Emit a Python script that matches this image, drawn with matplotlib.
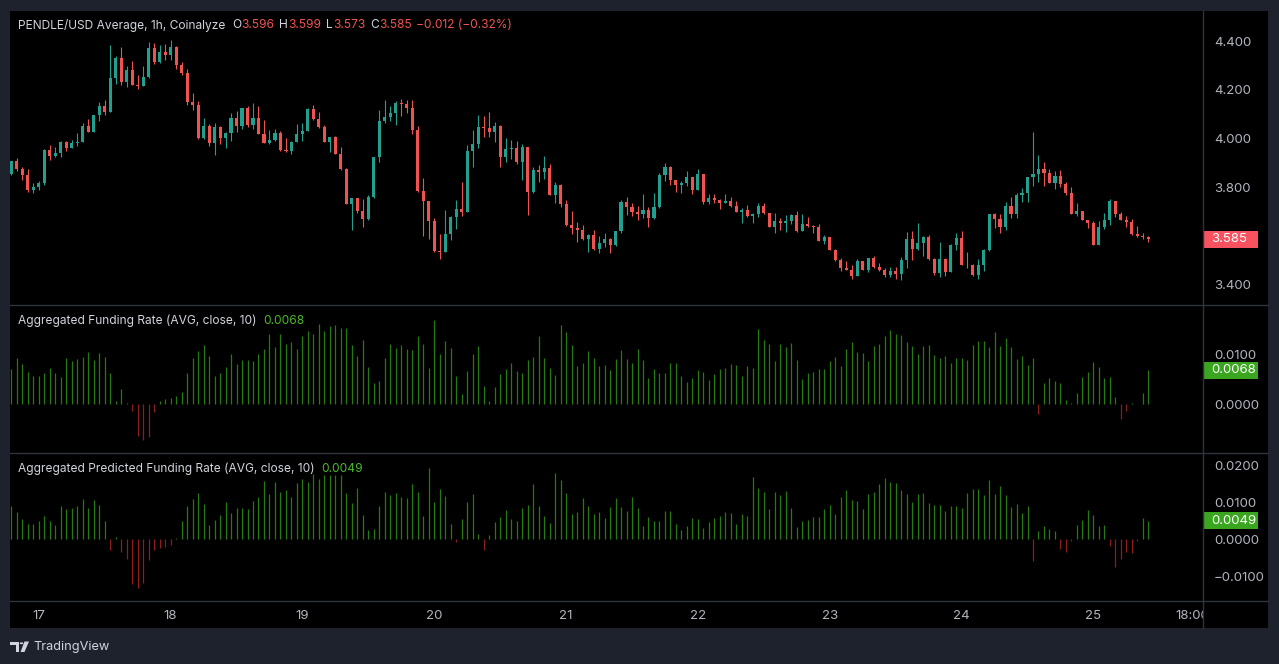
import matplotlib
matplotlib.use("Agg")
import matplotlib.pyplot as plt
import numpy as np
from matplotlib.patches import Rectangle, Polygon, Circle
from matplotlib.lines import Line2D

plt.rcParams["font.family"] = ["Inter", "DejaVu Sans"]

# ---- data (hourly, first candle = 16th 19:00) ----
start_hour = 19
day_labels = ["17", "18", "19", "20", "21", "22", "23", "24", "25"]
first_open = 3.854
closes = [
    3.906, 3.876, 3.851, 3.788, 3.800, 3.817, 3.954, 3.929, 3.940, 3.986,
    3.961, 3.982, 3.986, 4.051, 4.028, 4.097, 4.134, 4.109, 4.249, 4.331,
    4.232, 4.282, 4.221, 4.216, 4.253, 4.372, 4.315, 4.356, 4.345, 4.377,
    4.304, 4.271, 4.150, 4.139, 4.002, 4.053, 3.982, 4.047, 4.002, 4.023,
    4.084, 4.051, 4.125, 4.057, 4.084, 4.020, 3.983, 3.994, 4.023, 3.953,
    3.950, 3.986, 4.019, 4.032, 4.120, 4.081, 4.049, 3.987, 4.006, 3.937,
    3.874, 3.732, 3.755, 3.702, 3.670, 3.759, 3.924, 4.072, 4.087, 4.105,
    4.146, 4.142, 4.126, 4.035, 3.784, 3.743, 3.662, 3.537, 3.535, 3.607,
    3.678, 3.710, 3.699, 3.947, 3.977, 4.047, 4.042, 4.028, 4.051, 3.925,
    3.956, 3.962, 3.905, 3.965, 3.780, 3.870, 3.863, 3.879, 3.768, 3.809,
    3.729, 3.644, 3.633, 3.623, 3.585, 3.603, 3.545, 3.570, 3.586, 3.562,
    3.619, 3.740, 3.718, 3.698, 3.689, 3.706, 3.673, 3.718, 3.850, 3.883,
    3.830, 3.809, 3.817, 3.841, 3.788, 3.854, 3.739, 3.755, 3.747, 3.736,
    3.743, 3.723, 3.699, 3.707, 3.681, 3.689, 3.722, 3.693, 3.636, 3.660,
    3.653, 3.660, 3.685, 3.619, 3.648, 3.640, 3.637, 3.580, 3.593, 3.541,
    3.500, 3.467, 3.459, 3.434, 3.496, 3.459, 3.508, 3.471, 3.459, 3.438,
    3.455, 3.442, 3.500, 3.586, 3.545, 3.570, 3.594, 3.504, 3.447, 3.504,
    3.451, 3.562, 3.591, 3.480, 3.478, 3.438, 3.480, 3.541, 3.689, 3.669,
    3.636, 3.723, 3.689, 3.767, 3.776, 3.842, 3.854, 3.874, 3.858, 3.817,
    3.846, 3.813, 3.776, 3.689, 3.702, 3.665, 3.652, 3.562, 3.636, 3.665,
    3.743, 3.689, 3.665, 3.657, 3.607, 3.598, 3.596, 3.585,
]
highs = [
    3.908, 3.920, 3.881, 3.876, 3.817, 3.825, 3.958, 3.972, 3.964, 3.988,
    3.990, 3.994, 4.023, 4.064, 4.080, 4.099, 4.149, 4.158, 4.386, 4.338,
    4.377, 4.298, 4.318, 4.263, 4.298, 4.397, 4.393, 4.386, 4.389, 4.405,
    4.381, 4.315, 4.285, 4.187, 4.154, 4.084, 4.060, 4.064, 4.052, 4.028,
    4.105, 4.112, 4.127, 4.134, 4.145, 4.134, 4.076, 4.035, 4.039, 4.030,
    4.001, 3.990, 4.060, 4.066, 4.124, 4.139, 4.109, 4.055, 4.008, 4.012,
    3.966, 3.880, 3.757, 3.755, 3.751, 3.766, 3.926, 4.117, 4.158, 4.134,
    4.153, 4.163, 4.158, 4.158, 4.050, 3.837, 3.745, 3.674, 3.607, 3.706,
    3.682, 3.747, 3.821, 3.973, 4.035, 4.096, 4.093, 4.110, 4.069, 4.057,
    4.001, 3.994, 3.990, 3.977, 3.967, 3.883, 3.891, 3.928, 3.894, 3.820,
    3.815, 3.747, 3.702, 3.656, 3.644, 3.607, 3.623, 3.599, 3.611, 3.590,
    3.621, 3.747, 3.759, 3.735, 3.722, 3.773, 3.720, 3.777, 3.858, 3.899,
    3.886, 3.830, 3.826, 3.866, 3.841, 3.874, 3.854, 3.772, 3.772, 3.752,
    3.773, 3.759, 3.743, 3.715, 3.727, 3.692, 3.736, 3.736, 3.693, 3.693,
    3.673, 3.685, 3.690, 3.702, 3.689, 3.677, 3.645, 3.650, 3.603, 3.593,
    3.545, 3.508, 3.496, 3.478, 3.504, 3.496, 3.510, 3.516, 3.488, 3.467,
    3.471, 3.471, 3.512, 3.615, 3.619, 3.652, 3.598, 3.602, 3.510, 3.574,
    3.510, 3.564, 3.611, 3.619, 3.533, 3.483, 3.504, 3.545, 3.690, 3.693,
    3.690, 3.739, 3.759, 3.775, 3.796, 3.842, 4.027, 3.932, 3.903, 3.874,
    3.866, 3.870, 3.821, 3.800, 3.735, 3.702, 3.665, 3.660, 3.661, 3.694,
    3.751, 3.743, 3.697, 3.681, 3.669, 3.640, 3.611, 3.599,
]
lows = [
    3.850, 3.865, 3.830, 3.780, 3.776, 3.790, 3.807, 3.913, 3.924, 3.924,
    3.950, 3.960, 3.970, 3.984, 4.026, 4.025, 4.072, 4.098, 4.109, 4.224,
    4.221, 4.213, 4.219, 4.205, 4.216, 4.249, 4.308, 4.312, 4.324, 4.324,
    4.287, 4.263, 4.139, 4.118, 4.000, 4.000, 3.970, 3.933, 3.979, 3.961,
    3.991, 4.027, 4.040, 4.048, 4.038, 4.018, 3.981, 3.976, 3.990, 3.950,
    3.946, 3.935, 3.984, 3.991, 4.030, 4.075, 4.045, 3.985, 3.946, 3.935,
    3.872, 3.730, 3.623, 3.695, 3.637, 3.665, 3.755, 3.905, 4.063, 4.073,
    4.054, 4.093, 4.104, 4.019, 3.780, 3.599, 3.586, 3.535, 3.504, 3.533,
    3.582, 3.629, 3.682, 3.697, 3.884, 3.962, 4.007, 4.007, 3.984, 3.884,
    3.905, 3.916, 3.894, 3.829, 3.685, 3.778, 3.822, 3.833, 3.766, 3.736,
    3.719, 3.642, 3.607, 3.575, 3.583, 3.534, 3.543, 3.529, 3.555, 3.529,
    3.558, 3.610, 3.685, 3.681, 3.665, 3.673, 3.636, 3.671, 3.716, 3.825,
    3.809, 3.782, 3.776, 3.804, 3.772, 3.788, 3.730, 3.732, 3.736, 3.711,
    3.736, 3.720, 3.699, 3.653, 3.678, 3.653, 3.678, 3.688, 3.636, 3.613,
    3.623, 3.616, 3.648, 3.617, 3.619, 3.635, 3.612, 3.580, 3.566, 3.541,
    3.496, 3.455, 3.457, 3.422, 3.434, 3.457, 3.451, 3.469, 3.455, 3.430,
    3.430, 3.422, 3.418, 3.467, 3.500, 3.540, 3.517, 3.500, 3.438, 3.430,
    3.436, 3.451, 3.541, 3.480, 3.468, 3.436, 3.423, 3.455, 3.538, 3.632,
    3.611, 3.624, 3.672, 3.673, 3.739, 3.739, 3.805, 3.821, 3.805, 3.817,
    3.792, 3.800, 3.767, 3.689, 3.680, 3.665, 3.632, 3.562, 3.562, 3.627,
    3.645, 3.677, 3.665, 3.636, 3.603, 3.595, 3.586, 3.573,
]
# legend readout of the last bar: change vs. previous close and percent
last_change = -0.012
last_change_pct = -0.32
funding = [
    0.0070, 0.0092, 0.0080, 0.0065, 0.0057, 0.0057, 0.0062, 0.0072, 0.0062, 0.0055,
    0.0092, 0.0087, 0.0090, 0.0095, 0.0105, 0.0088, 0.0103, 0.0095, 0.0062, 0.0006,
    0.0030, 0.0003, -0.0013, -0.0063, -0.0072, -0.0065, -0.0015, 0.0006, 0.0010, 0.0012,
    0.0017, 0.0025, 0.0062, 0.0092, 0.0107, 0.0118, 0.0097, 0.0057, 0.0063, 0.0075,
    0.0100, 0.0080, 0.0088, 0.0088, 0.0087, 0.0101, 0.0110, 0.0141, 0.0115, 0.0141,
    0.0120, 0.0125, 0.0110, 0.0137, 0.0147, 0.0140, 0.0161, 0.0147, 0.0156, 0.0159,
    0.0152, 0.0152, 0.0119, 0.0097, 0.0128, 0.0075, 0.0043, 0.0047, 0.0093, 0.0120,
    0.0113, 0.0118, 0.0110, 0.0108, 0.0136, 0.0120, 0.0072, 0.0168, 0.0100, 0.0126,
    0.0112, 0.0056, 0.0020, 0.0066, 0.0100, 0.0116, 0.0036, 0.0006, 0.0034, 0.0060,
    0.0070, 0.0082, 0.0066, 0.0062, 0.0088, 0.0094, 0.0136, 0.0092, 0.0072, 0.0058,
    0.0158, 0.0144, 0.0118, 0.0076, 0.0082, 0.0106, 0.0092, 0.0076, 0.0078, 0.0068,
    0.0090, 0.0108, 0.0090, 0.0082, 0.0110, 0.0088, 0.0052, 0.0070, 0.0062, 0.0062,
    0.0082, 0.0082, 0.0056, 0.0044, 0.0052, 0.0068, 0.0064, 0.0048, 0.0060, 0.0070,
    0.0072, 0.0080, 0.0078, 0.0056, 0.0076, 0.0072, 0.0150, 0.0128, 0.0120, 0.0086,
    0.0120, 0.0114, 0.0122, 0.0088, 0.0050, 0.0062, 0.0064, 0.0070, 0.0070, 0.0086,
    0.0094, 0.0076, 0.0110, 0.0124, 0.0104, 0.0102, 0.0086, 0.0116, 0.0120, 0.0136,
    0.0148, 0.0140, 0.0138, 0.0124, 0.0116, 0.0100, 0.0116, 0.0118, 0.0098, 0.0092,
    0.0096, 0.0082, 0.0092, 0.0092, 0.0088, 0.0118, 0.0126, 0.0126, 0.0114, 0.0144,
    0.0116, 0.0132, 0.0114, 0.0090, 0.0096, 0.0078, 0.0092, -0.0020, 0.0042, 0.0052,
    0.0046, 0.0042, 0.0008, 0.0002, 0.0022, 0.0054, 0.0064, 0.0084, 0.0074, 0.0052,
    0.0054, 0.0014, -0.0030, -0.0014, 0.0002, 0.0001, 0.0022, 0.0068,
]
predicted = [
    0.0090, 0.0074, 0.0055, 0.0041, 0.0041, 0.0049, 0.0063, 0.0049, 0.0039, 0.0090,
    0.0082, 0.0085, 0.0090, 0.0109, 0.0085, 0.0106, 0.0093, 0.0050, -0.0029, 0.0006,
    -0.0034, -0.0053, -0.0121, -0.0132, -0.0118, -0.0056, -0.0029, -0.0023, -0.0021, -0.0015,
    0.0003, 0.0050, 0.0090, 0.0109, 0.0125, 0.0095, 0.0039, 0.0052, 0.0066, 0.0101,
    0.0071, 0.0085, 0.0085, 0.0082, 0.0104, 0.0114, 0.0158, 0.0123, 0.0155, 0.0128,
    0.0133, 0.0114, 0.0152, 0.0163, 0.0155, 0.0175, 0.0163, 0.0172, 0.0172, 0.0172,
    0.0172, 0.0125, 0.0098, 0.0139, 0.0066, 0.0025, 0.0028, 0.0090, 0.0128, 0.0120,
    0.0125, 0.0114, 0.0112, 0.0150, 0.0128, 0.0063, 0.0193, 0.0101, 0.0136, 0.0117,
    0.0041, -0.0009, 0.0055, 0.0101, 0.0123, 0.0014, -0.0029, 0.0012, 0.0047, 0.0060,
    0.0079, 0.0055, 0.0050, 0.0085, 0.0093, 0.0150, 0.0090, 0.0063, 0.0044, 0.0179,
    0.0160, 0.0125, 0.0068, 0.0074, 0.0112, 0.0090, 0.0068, 0.0074, 0.0058, 0.0087,
    0.0112, 0.0087, 0.0077, 0.0114, 0.0085, 0.0036, 0.0060, 0.0050, 0.0050, 0.0077,
    0.0077, 0.0041, 0.0025, 0.0036, 0.0058, 0.0055, 0.0031, 0.0047, 0.0058, 0.0063,
    0.0074, 0.0071, 0.0041, 0.0068, 0.0063, 0.0168, 0.0139, 0.0128, 0.0082, 0.0128,
    0.0120, 0.0131, 0.0085, 0.0033, 0.0050, 0.0052, 0.0060, 0.0060, 0.0082, 0.0093,
    0.0068, 0.0114, 0.0133, 0.0106, 0.0104, 0.0082, 0.0123, 0.0128, 0.0150, 0.0166,
    0.0155, 0.0152, 0.0133, 0.0123, 0.0101, 0.0123, 0.0125, 0.0098, 0.0093, 0.0093,
    0.0077, 0.0090, 0.0090, 0.0085, 0.0125, 0.0136, 0.0136, 0.0120, 0.0160, 0.0123,
    0.0144, 0.0120, 0.0087, 0.0095, 0.0071, 0.0090, -0.0059, 0.0023, 0.0036, 0.0028,
    0.0023, -0.0026, -0.0034, -0.0006, 0.0039, 0.0052, 0.0079, 0.0066, 0.0036, 0.0039,
    -0.0018, -0.0075, -0.0053, -0.0034, -0.0037, -0.0006, 0.0058, 0.0049,
]
price_ticks = [3.4, 3.8, 4.0, 4.2, 4.4]
funding_ticks = [0.0, 0.01]
predicted_ticks = [-0.01, 0.0, 0.01, 0.02]

# ---- styles ----
W, H = 1279, 664
BG = "#1e222d"
PANE = "#000000"
GRID = "#2f333e"
TXT = "#b2b5be"
LEG = "#d1d4dc"
UP, DOWN = "#22a08f", "#ef5350"
BAR_UP, BAR_DN = "#257a10", "#8e1d1d"
LBL_GREEN = "#3aa51e"


def fx(x):
    return x / W


def fy(y):
    return 1 - y / H


def axes_px(x0, y0, x1, y1):
    return [fx(x0), fy(y1), (x1 - x0) / W, (y1 - y0) / H]


def minus(s):
    return s.replace("-", "\u2212")


closes = np.array(closes)
opens = np.r_[first_open, closes[:-1]]
highs = np.array(highs)
lows = np.array(lows)
funding = np.array(funding)
predicted = np.array(predicted)
x = np.arange(len(closes))
first_day = 24 - start_hour
xlim = (-0.24, 216.95)

fig = plt.figure(figsize=(W / 100, H / 100), dpi=100, facecolor=BG)

bg = fig.add_axes(axes_px(10, 11, 1268, 628))
bg.set_facecolor(PANE)
bg.set_xticks([])
bg.set_yticks([])
for s in bg.spines.values():
    s.set_visible(False)

ax_p = fig.add_axes(axes_px(10, 11, 1203, 305))
ax_f = fig.add_axes(axes_px(10, 305, 1203, 453))
ax_q = fig.add_axes(axes_px(10, 453, 1203, 601))
ax_t = fig.add_axes(axes_px(10, 601, 1203, 628))

for a in (ax_p, ax_f, ax_q, ax_t):
    a.set_facecolor(PANE)
    a.set_xlim(*xlim)
    a.set_xticks([])
    for s in a.spines.values():
        s.set_visible(False)
    a.yaxis.tick_right()
    a.tick_params(axis="y", length=0, pad=8, labelcolor=TXT, labelsize=9.5)

# candles
up = closes >= opens
cols = np.where(up, UP, DOWN)
ax_p.vlines(x, lows, highs, colors=cols, linewidth=0.8)
body_lo = np.minimum(opens, closes)
body_h = np.maximum(np.abs(closes - opens), 0.003)
ax_p.bar(x, body_h, bottom=body_lo, width=0.56, color=cols, linewidth=0)
ax_p.set_ylim(3.315, 4.525)
ax_p.set_yticks(price_ticks)
ax_p.set_yticklabels([f"{v:.3f}" for v in price_ticks])

# funding panes
for a, vals, ticks, lim in (
    (ax_f, funding, funding_ticks, (-0.0098, 0.01986)),
    (ax_q, predicted, predicted_ticks, (-0.01668, 0.02324)),
):
    bc = np.where(vals >= 0, BAR_UP, BAR_DN)
    a.vlines(x, 0, vals, colors=bc, linewidth=0.9)
    a.set_ylim(*lim)
    a.set_yticks(ticks)
    a.set_yticklabels([minus(f"{v:.4f}") for v in ticks])

ax_t.set_ylim(0, 1)
ax_t.set_yticks([])
for i, lab in enumerate(day_labels):
    ax_t.text(first_day + 24 * i, 0.45, lab, color=TXT, fontsize=9.5,
              ha="center", va="center")
ax_t.text(first_day + 24 * (len(day_labels) - 1) + 18, 0.45, "18:00",
          color=TXT, fontsize=9.5, ha="center", va="center", clip_on=True)

# separators
for y in (305, 453, 601):
    fig.add_artist(Line2D([fx(10), fx(1268)], [fy(y), fy(y)], color=GRID, lw=1))
fig.add_artist(Line2D([fx(1203), fx(1203)], [fy(11), fy(628)], color=GRID, lw=1))


# last value labels on the right axis
def value_box(ax, val, text, color):
    yy = ax.transData.transform((0, val))[1]
    ypx = H - yy
    fig.add_artist(Rectangle((fx(1203), fy(ypx + 8.5)), 55 / W, 17 / H,
                             transform=fig.transFigure, color=color, lw=0))
    fig.text(fx(1211), fy(ypx), text, color="white", fontsize=9.5,
             ha="left", va="center")


value_box(ax_p, closes[-1], f"{closes[-1]:.3f}", "#f7525f")
value_box(ax_f, funding[-1], f"{funding[-1]:.4f}", LBL_GREEN)
value_box(ax_q, predicted[-1], f"{predicted[-1]:.4f}", LBL_GREEN)

# legends
renderer = fig.canvas.get_renderer()


def chain(parts, x0, y0):
    xx = x0
    for s, c, gap in parts:
        t = fig.text(fx(xx), fy(y0), s, color=c, fontsize=8.6, ha="left", va="center")
        xx += t.get_window_extent(renderer=renderer).width + gap


chain([
    ("PENDLE/USD Average, 1h, Coinalyze", LEG, 7),
    ("O", LEG, 0), (f"{opens[-1]:.3f}", DOWN, 5),
    ("H", LEG, 0), (f"{highs[-1]:.3f}", DOWN, 5),
    ("L", LEG, 0), (f"{lows[-1]:.3f}", DOWN, 5),
    ("C", LEG, 0), (f"{closes[-1]:.3f}", DOWN, 5),
    (minus(f"{last_change:+.3f} ({last_change_pct:+.2f}%)"), DOWN, 0),
], 18, 25)
chain([("Aggregated Funding Rate (AVG, close, 10)", LEG, 7),
       (f"{funding[-1]:.4f}", "#4cb82a", 0)], 18, 321)
chain([("Aggregated Predicted Funding Rate (AVG, close, 10)", LEG, 7),
       (f"{predicted[-1]:.4f}", "#4cb82a", 0)], 18, 469)

# TradingView logo
logo_c = "#d1d4dc"
fig.add_artist(Polygon([(fx(10), fy(641.5)), (fx(19), fy(641.5)), (fx(19), fy(652)),
                        (fx(15.5), fy(652)), (fx(15.5), fy(645)), (fx(10), fy(645))],
                       closed=True, transform=fig.transFigure, color=logo_c, lw=0))
fig.add_artist(Circle((fx(21.5), fy(643.3)), 1.8 / W, transform=fig.transFigure,
                      color=logo_c, lw=0))
fig.add_artist(Polygon([(fx(24.5), fy(641.5)), (fx(29), fy(641.5)), (fx(24.5), fy(652)),
                        (fx(20.5), fy(652))],
                       closed=True, transform=fig.transFigure, color=logo_c, lw=0))
fig.text(fx(33), fy(647), "TradingView", color=logo_c, fontsize=9.2,
         ha="left", va="center")

fig.savefig("out.png", dpi=100, facecolor=BG)
